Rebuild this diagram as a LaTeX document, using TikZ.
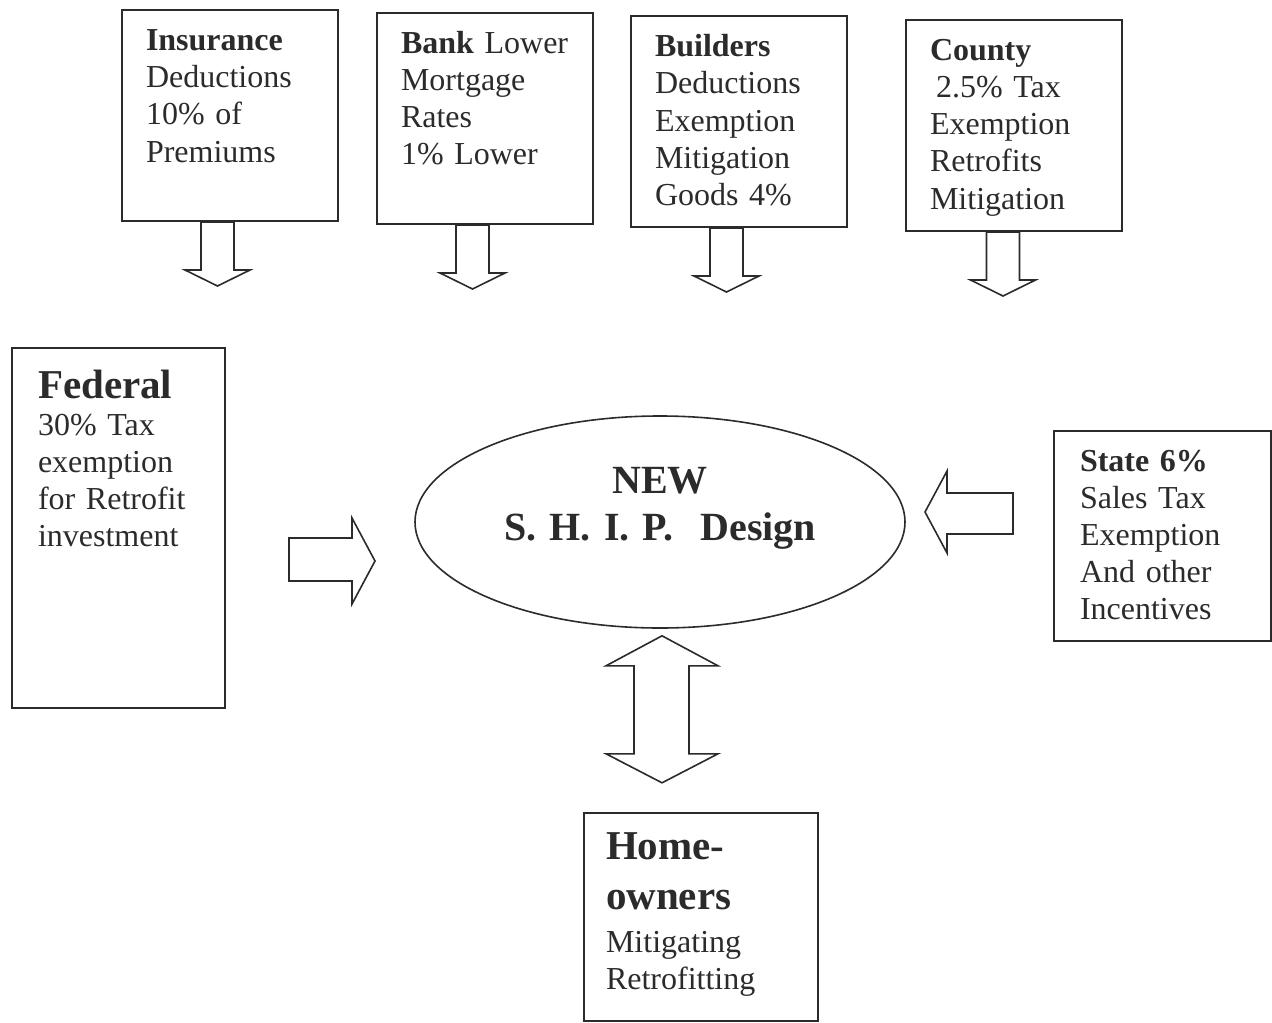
\documentclass[tikz,border=0pt]{standalone}
\usepackage{fontspec}
\setmainfont{Liberation Serif}
\usetikzlibrary{shapes.geometric}

\definecolor{ink}{HTML}{2B2B2B}
\newcommand{\boxfont}{\fontsize{16}{18.5}\selectfont}
\newcommand{\headfont}{\fontsize{20.5}{25}\selectfont\bfseries}
\newcommand{\shipfont}{\fontsize{20}{23.5}\selectfont\bfseries}

\begin{document}
\begin{tikzpicture}[x=0.5pt, y=-0.5pt,
    every node/.style={text=ink},
    fund/.style={draw=ink, line width=1pt, anchor=north west, align=left, inner ysep=0pt, font=\boxfont},
    topbox/.style={fund, inner xsep=12pt, text width=84pt, text height=20.5pt, text depth=85pt},
    hub/.style={ellipse, draw=ink, line width=0.8pt, minimum width=245pt, minimum height=106pt, inner sep=0pt,
                text width=170pt, align=center, font=\shipfont, text height=10pt, text depth=39pt},
    blk/.style={draw=ink, line width=0.8pt, fill=white}]
\useasboundingbox (0,0) rectangle (1272,1022);

\node[topbox] (ins)  at (121,9)  {\textbf{Insurance}\\Deductions\\10\% of\\Premiums};
\node[topbox] (bank) at (376,12) {\textbf{Bank} Lower\\Mortgage\\Rates\\1\% Lower};
\node[topbox] (bld)  at (630,15) {\textbf{Builders}\\Deductions\\Exemption\\Mitigation\\Goods 4\%};
\node[topbox] (cty)  at (905,19) {\textbf{County}\\ \hspace*{3pt}2.5\% Tax\\Exemption\\Retrofits\\Mitigation};

\node[fund, inner xsep=13pt, text width=80.5pt, text height=25pt, text depth=155pt] (fed) at (11,347)
    {{\headfont Federal\par}30\% Tax\\exemption\\for Retrofit\\investment};
\node[fund, inner xsep=13pt, text width=82.5pt, text height=20pt, text depth=85pt] (st) at (1053,430)
    {\textbf{State 6\%}\\Sales Tax\\Exemption\\And other\\Incentives};
\node[fund, inner xsep=11pt, text width=95pt, text height=23pt, text depth=81pt] (home) at (583,812)
    {{\headfont Home-\\owners\par}\vspace{3pt}Mitigating\\Retrofitting};

\node[hub] (ship) at (660,522) {NEW\\S.\ H.\ I.\ P.\ \ Design};

% block arrows
\draw[blk] (ins.south)  ++(-29,0) -- ++(0,48) -- ++(-16,0) -- ++(32.5,16) -- ++(32.5,-16) -- ++(-16,0) -- ++(0,-48) -- cycle;
\draw[blk] (bank.south) ++(-29,0) -- ++(0,48) -- ++(-16,0) -- ++(32.5,16) -- ++(32.5,-16) -- ++(-16,0) -- ++(0,-48) -- cycle;
\draw[blk] (bld.south)  ++(-29,0) -- ++(0,48) -- ++(-16,0) -- ++(32.5,16) -- ++(32.5,-16) -- ++(-16,0) -- ++(0,-48) -- cycle;
\draw[blk] (cty.south)  ++(-27.5,0) -- ++(0,48) -- ++(-16,0) -- ++(32.5,16) -- ++(32.5,-16) -- ++(-16,0) -- ++(0,-48) -- cycle;

\draw[blk] (fed.east) ++(63,10) -- ++(63,0) -- ++(0,-20) -- ++(23,43) -- ++(-23,43) -- ++(0,-23) -- ++(-63,0) -- cycle;
\draw[blk] (st.west) ++(-40,-43) -- ++(-66,0) -- ++(0,-22) -- ++(-22,41) -- ++(22,41) -- ++(0,-19) -- ++(66,0) -- cycle;

\draw[blk] (ship.south) ++(2,7) -- ++(56,30) -- ++(-29,0) -- ++(0,88) -- ++(29,0) -- ++(-56,29)
    -- ++(-56,-29) -- ++(28,0) -- ++(0,-88) -- ++(-28,0) -- cycle;
\end{tikzpicture}
\end{document}
